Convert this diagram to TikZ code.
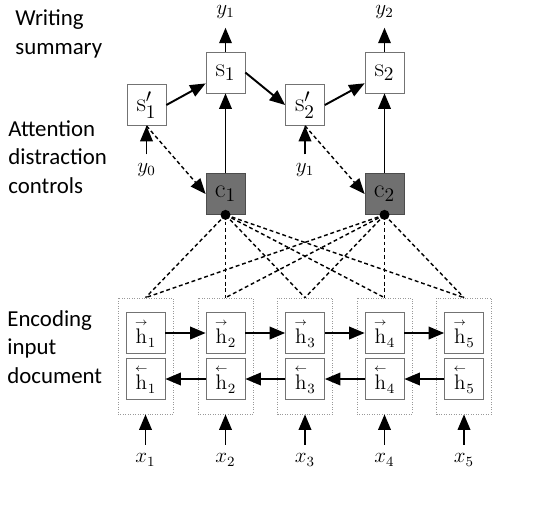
\documentclass[tikz,border=0pt]{standalone}
\usepackage{amsmath}
\usepackage{fontspec}
\newfontfamily\labelfont{Carlito}
\usetikzlibrary{arrows.meta}

\newcommand{\hfw}[1]{\overset{\scriptscriptstyle\rightarrow}{\mathrm{h}}_{#1}}
\newcommand{\hbw}[1]{\overset{\scriptscriptstyle\leftarrow}{\mathrm{h}}_{#1}}

\begin{document}
\begin{tikzpicture}[x=0.2mm,y=-0.2mm,>={Triangle[length=3.1mm,width=2.5mm]},
  cell/.style={draw=black!55,fill=white,minimum width=7.8mm,minimum height=8.2mm,inner sep=0pt,font=\fontsize{12}{14}\selectfont},
  state/.style={cell,font=\fontsize{15}{17}\selectfont},
  ctx/.style={state,fill=black!56,draw=black!70},
  wrap/.style={draw=black!40,densely dotted,minimum width=11mm,minimum height=23.2mm,inner sep=0pt},
  flow/.style={line width=1.1pt},
  link/.style={dash pattern=on 2.2pt off 1.6pt,line width=0.8pt},
  side/.style={font=\labelfont\fontsize{13}{16.4}\selectfont,align=left,anchor=west,inner sep=0pt},
  var/.style={font=\fontsize{12}{14}\selectfont,inner sep=5pt}]
\useasboundingbox (0,0) rectangle (554,504);

% left captions
\node[side] (write) at (15,34) {Writing\\summary};
\node[side] (attend) at (8,157) {Attention\\distraction\\controls};
\node[side] (encode) at (7,347) {Encoding\\input\\document};

% encoder columns
\foreach \i/\cx in {1/145.5,2/225.5,3/305,4/384.5,5/464}{
  \node[wrap] (e\i) at (\cx,356) {};
  \node[cell] (f\i) at (\cx,333) {$\hfw{\i}$};
  \node[cell] (b\i) at (\cx,379) {$\hbw{\i}$};
  \node[var] (x\i) at (\cx,460) {$x_{\i}$};
  \draw[->,flow] (x\i) -- (e\i);
}
\foreach \i/\j in {1/2,2/3,3/4,4/5}{
  \draw[->,flow] (f\i) -- (f\j);
  \draw[->,flow] (b\j) -- (b\i);
}

% decoder
\node[state] (sp1) at (146.5,105) {$\mathrm{s}'_1$};
\node[state] (s1) at (225.5,72.5) {$\mathrm{s}_1$};
\node[ctx] (c1) at (225.5,194) {$\mathrm{c}_1$};
\node[state] (sp2) at (305,105) {$\mathrm{s}'_2$};
\node[state] (s2) at (384.5,72.5) {$\mathrm{s}_2$};
\node[ctx] (c2) at (384.5,194) {$\mathrm{c}_2$};

\node[var] (ya) at (225.5,12) {$y_1$};
\node[var] (yb) at (384.5,12) {$y_2$};
\node[var] (y0) at (146.5,170) {$y_0$};
\node[var] (yc) at (305,170) {$y_1$};

\draw[->,flow] (s1) -- (ya);
\draw[->,flow] (s2) -- (yb);
\draw[->,flow] (y0) -- (sp1);
\draw[->,flow] (yc) -- (sp2);
\draw[->,flow] (sp1.east) -- (s1);
\draw[->,flow] (s1.east) -- (sp2.west);
\draw[->,flow] (sp2.east) -- (s2);
\draw[->,flow] (c1) -- (s1);
\draw[->,flow] (c2) -- (s2);

\draw[->,link] (sp1.south) -- (c1.west);
\draw[->,link] (sp2.south) -- (c2.west);

% attention links
\foreach \c in {c1,c2}{
  \foreach \i in {1,...,5}
    \draw[link] (\c.south) -- (e\i.north);
  \fill (\c.south) circle (1mm);
}
\end{tikzpicture}
\end{document}
